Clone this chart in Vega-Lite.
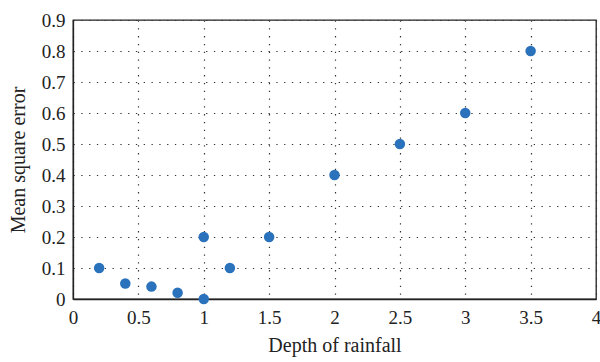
{
  "$schema": "https://vega.github.io/schema/vega-lite/v6.json",
  "width": 523,
  "height": 279,
  "autosize": {"type": "none"},
  "padding": {"left": 73, "top": 20, "right": 4, "bottom": 63},
  "background": "white",
  "config": {
    "font": "Liberation Serif",
    "view": {"stroke": "#222", "strokeWidth": 1.3},
    "axis": {
      "labelFont": "Liberation Serif",
      "titleFont": "Liberation Serif",
      "labelFontSize": 19,
      "titleFontSize": 20,
      "titleFontWeight": "normal",
      "labelColor": "#222",
      "titleColor": "#222",
      "domainColor": "#222",
      "domainWidth": 1.3,
      "ticks": false,
      "gridColor": "#333",
      "gridDash": [1.3, 6.5],
      "gridWidth": 1.2
    }
  },
  "data": {
    "values": [
      {"depth": 0.2, "mse": 0.1},
      {"depth": 0.4, "mse": 0.05},
      {"depth": 0.6, "mse": 0.04},
      {"depth": 0.8, "mse": 0.02},
      {"depth": 1.0, "mse": 0.0},
      {"depth": 1.0, "mse": 0.2},
      {"depth": 1.2, "mse": 0.1},
      {"depth": 1.5, "mse": 0.2},
      {"depth": 2.0, "mse": 0.4},
      {"depth": 2.5, "mse": 0.5},
      {"depth": 3.0, "mse": 0.6},
      {"depth": 3.5, "mse": 0.8}
    ]
  },
  "mark": {"type": "circle", "size": 110, "color": "#2a72bb", "opacity": 1},
  "encoding": {
    "x": {
      "field": "depth", "type": "quantitative",
      "scale": {"domain": [0, 4], "nice": false},
      "axis": {"values": [0, 0.5, 1, 1.5, 2, 2.5, 3, 3.5, 4], "title": "Depth of rainfall", "labelPadding": 9, "titlePadding": 8, "labelFlush": false, "format": "~g"}
    },
    "y": {
      "field": "mse", "type": "quantitative",
      "scale": {"domain": [0, 0.9], "nice": false},
      "axis": {"values": [0, 0.1, 0.2, 0.3, 0.4, 0.5, 0.6, 0.7, 0.8, 0.9], "title": "Mean square error", "labelPadding": 8, "titlePadding": 13, "labelFlush": false, "format": "~g"}
    }
  }
}
